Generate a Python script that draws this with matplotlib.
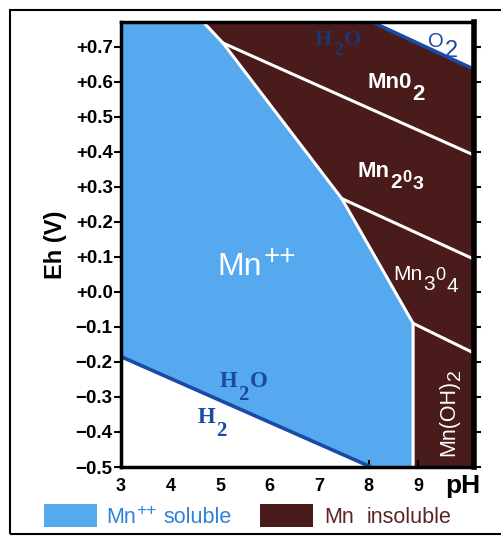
import matplotlib
matplotlib.use("Agg")
import matplotlib.pyplot as plt
from matplotlib.patches import Polygon, Rectangle

plt.rcParams['font.family'] = ['Liberation Sans', 'DejaVu Sans']

# ---- data (pH, Eh) ----
x_limits = [3, 10.13]
y_limits = [-0.5, 0.77]
x_ticks = [3, 4, 5, 6, 7, 8, 9]
y_ticks = [0.7, 0.6, 0.5, 0.4, 0.3, 0.2, 0.1, 0.0, -0.1, -0.2, -0.3, -0.4, -0.5]
y_tick_labels = ['+0.7', '+0.6', '+0.5', '+0.4', '+0.3', '+0.2', '+0.1', '+0.0',
                 '\u22120.1', '\u22120.2', '\u22120.3', '\u22120.4', '\u22120.5']

# Mn++ (soluble) / insoluble boundary
sol_ph = [4.66, 5.06, 7.46, 8.9, 8.9]
sol_eh = [0.77, 0.71, 0.266, -0.09, -0.5]
# internal boundaries between insoluble phases
mno2_mn2o3_ph = [5.06, 10.13]
mno2_mn2o3_eh = [0.71, 0.39]
mn2o3_mn3o4_ph = [7.46, 10.13]
mn2o3_mn3o4_eh = [0.266, 0.093]
mn3o4_mnoh2_ph = [8.9, 10.13]
mn3o4_mnoh2_eh = [-0.09, -0.175]
# water stability limits
h2_ph = [3, 8.05]
h2_eh = [-0.185, -0.5]
o2_ph = [8.07, 10.13]
o2_eh = [0.77, 0.635]

blue = '#56a8ef'
brown = '#4a1b1b'
lineblue = '#1a49a6'

fig = plt.figure(figsize=(5.02, 5.38), dpi=100)
ax = fig.add_axes([121/502, 1-467/538, 353/502, 445/538])
ax.set_facecolor(brown)
ax.set_xlim(*x_limits)
ax.set_ylim(*y_limits)

# soluble region
poly = [(x_limits[0], y_limits[0]), (x_limits[0], y_limits[1])] + list(zip(sol_ph, sol_eh))
ax.add_patch(Polygon(poly, closed=True, facecolor=blue, edgecolor='none', zorder=1))
# below H2 line -> white
ax.add_patch(Polygon([(h2_ph[0], h2_eh[0]), (h2_ph[1], h2_eh[1]), (x_limits[0], y_limits[0])],
                     closed=True, facecolor='white', edgecolor='none', zorder=2))
# above O2 line -> white
ax.add_patch(Polygon([(o2_ph[0], o2_eh[0]), (o2_ph[1], o2_eh[1]), (x_limits[1], y_limits[1])],
                     closed=True, facecolor='white', edgecolor='none', zorder=2))

# white boundaries
ax.plot(sol_ph, sol_eh, color='white', lw=2.2, zorder=3, solid_joinstyle='miter')
ax.plot(mno2_mn2o3_ph, mno2_mn2o3_eh, color='white', lw=2.2, zorder=3)
ax.plot(mn2o3_mn3o4_ph, mn2o3_mn3o4_eh, color='white', lw=2.2, zorder=3)
ax.plot(mn3o4_mnoh2_ph, mn3o4_mnoh2_eh, color='white', lw=2.2, zorder=3)
# water lines
ax.plot(h2_ph, h2_eh, color=lineblue, lw=2.6, zorder=4)
ax.plot(o2_ph, o2_eh, color=lineblue, lw=2.6, zorder=4)


def rich(x, y, pieces, color, family='Liberation Sans', weight='normal',
         rotation=0, coords='data', gap=0.6):
    """Draw text pieces (text, size, baseline shift[, gap]) one after another."""
    kw = dict(color=color, family=family, fontweight=weight, zorder=5,
              annotation_clip=False)
    if rotation == 0:
        first = ax.annotate(pieces[0][0], xy=(x, y), xycoords=coords,
                            fontsize=pieces[0][1], ha='left', va='baseline', **kw)
        prev = first
        for p in pieces[1:]:
            txt, size, dy = p[:3]
            g = p[3] if len(p) > 3 else gap
            prev = ax.annotate(txt, xy=(1, y), xycoords=(prev, coords),
                               xytext=(g, dy), textcoords='offset points',
                               fontsize=size, ha='left', va='baseline', **kw)
    else:
        first = ax.annotate(pieces[0][0], xy=(x, y), xycoords=coords,
                            fontsize=pieces[0][1], ha='left', va='baseline',
                            rotation=90, rotation_mode='anchor', **kw)
        prev = first
        for p in pieces[1:]:
            txt, size, dx = p[:3]
            g = p[3] if len(p) > 3 else gap
            prev = ax.annotate(txt, xy=(x, 1), xycoords=(coords, prev),
                               xytext=(dx, g), textcoords='offset points',
                               fontsize=size, ha='left', va='baseline',
                               rotation=90, rotation_mode='anchor', **kw)


# region labels
rich(4.94, 0.048, [('Mn', 23, 0), ('++', 20, 8, 1.5)], 'white')
rich(7.97, 0.582, [('Mn0', 16, 0), ('2', 16, -9)], 'white', weight='bold')
rich(7.77, 0.328, [('Mn', 16, 0), ('2', 15, -8), ('0', 12, -3.6), ('3', 14, -8.6)],
     'white', weight='bold')
rich(8.49, 0.034, [('Mn', 15, 0), ('3', 15, -7.5), ('0', 13, 0), ('4', 15, -9)], 'white')
rich(9.73, -0.47, [('Mn(OH)', 15.5, 0), ('2', 14, 4)], 'white', rotation=90)
rich(5.0, -0.272, [('H', 16.5, 0), ('2', 15, -9), ('O', 16.5, 0)], lineblue,
     family='Liberation Serif', weight='bold')
rich(4.555, -0.374, [('H', 16.5, 0), ('2', 15, -9.5)], lineblue,
     family='Liberation Serif', weight='bold')
rich(6.92, 0.704, [('H', 16, 0), ('2', 14, -7), ('O', 16, 0)], '#1d3573',
     family='Liberation Serif', weight='bold')
rich(9.2, 0.699, [('O', 14.5, 0), ('2', 17, -7.5)], lineblue)

# axes styling
for s in ax.spines.values():
    s.set_linewidth(2.5)
    s.set_zorder(6)
ax.spines['right'].set_linewidth(4)
ax.set_yticks(y_ticks)
ax.set_yticklabels(y_tick_labels, fontsize=13.5, fontweight='bold')
ax.set_xticks(x_ticks)
ax.set_xticklabels([str(t) for t in x_ticks], fontsize=13, fontweight='bold')
ax.tick_params(axis='y', direction='out', length=5, width=1.5, left=True, right=True, pad=1)
ax.tick_params(axis='x', direction='in', length=5, width=1.5, pad=8)
ax.set_ylabel('Eh (V)', fontsize=17, fontweight='bold', labelpad=6)
fig.text(463/502, 1-486/538, 'pH', fontsize=19, fontweight='bold', ha='center', va='center')

# legend
fig.add_artist(Rectangle((44/502, 1-527/538), 53/502, 23/538, transform=fig.transFigure,
                         facecolor=blue, edgecolor='none'))
rich(106/502, 1-523/538, [('Mn', 15.5, 0), ('++', 12.5, 5.6, 0.3), ('soluble', 15.5, 0, 5)],
     '#2f82dc', coords='figure fraction')
fig.add_artist(Rectangle((260/502, 1-527/538), 53/502, 23/538, transform=fig.transFigure,
                         facecolor=brown, edgecolor='none'))
rich(324/502, 1-523/538, [('Mn', 15.5, 0), ('insoluble', 15.5, 0, 9)],
     '#5e2424', coords='figure fraction')

# outer frame
fig.add_artist(Rectangle((10/502, 1-534/538), 510/502, 524/538, transform=fig.transFigure,
                         facecolor='none', edgecolor='black', lw=1.5, clip_on=False))

fig.savefig('out.png', dpi=100)
